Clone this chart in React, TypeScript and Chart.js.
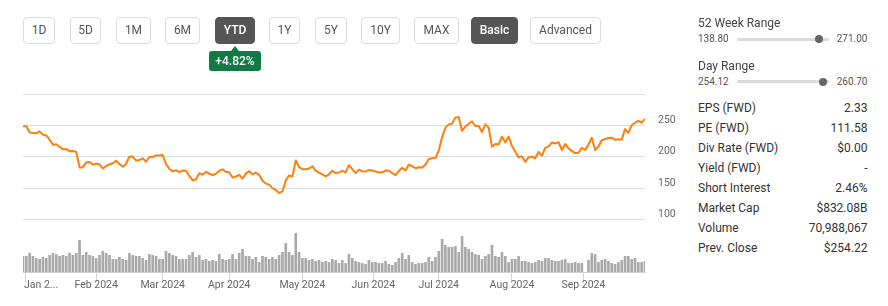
import React, { useEffect, useRef } from 'react';
import { Chart, registerables } from 'chart.js';

Chart.register(...registerables);

// ---- DATA ----
// Daily closes (USD), last close of 2023 followed by 2024 trading days
const closesDec = [248.48];
const closesJan = [248.42, 238.45, 237.93, 237.49, 240.45, 234.96, 233.94, 227.22, 218.89, 219.91, 215.55, 211.88, 212.19, 208.8, 209.14, 207.83, 182.63, 183.25, 190.93, 191.59, 187.29];
const closesFeb = [188.86, 187.91, 181.06, 185.1, 187.58, 189.56, 193.57, 188.13, 184.02, 188.71, 200.45, 199.95, 193.76, 194.77, 197.41, 191.97, 199.4, 199.73, 202.04, 201.88];
const closesMar = [202.64, 188.14, 180.74, 176.54, 178.65, 175.34, 177.77, 177.54, 169.48, 162.5, 163.57, 173.8, 171.32, 175.66, 172.82, 170.83, 172.63, 177.67, 179.83, 175.79];
const closesApr = [175.22, 166.63, 168.38, 171.11, 164.9, 172.98, 176.88, 171.76, 174.6, 171.05, 161.48, 157.11, 155.45, 149.93, 147.05, 142.05, 144.68, 162.13, 170.18, 168.29, 194.05, 183.28];
const closesMay = [179.99, 180.01, 181.19, 184.76, 177.81, 174.72, 171.97, 168.47, 171.89, 177.55, 173.99, 174.84, 177.46, 174.95, 186.6, 180.11, 173.74, 179.24, 176.75, 176.19, 178.79, 178.08];
const closesJun = [176.29, 174.77, 175.0, 177.94, 177.48, 173.79, 170.66, 177.29, 182.47, 178.01, 187.44, 184.86, 181.57, 183.01, 182.58, 187.35, 196.37, 197.42, 197.88];
const closesJul = [209.86, 231.26, 246.39, 251.52, 252.94, 262.33, 263.26, 241.03, 248.23, 252.64, 256.56, 248.5, 249.23, 239.2, 251.51, 246.38, 215.99, 220.25, 219.8, 232.1, 222.62, 232.07];
const closesAug = [216.86, 207.67, 198.88, 200.64, 191.76, 198.84, 200.0, 197.49, 207.83, 201.38, 214.14, 216.12, 222.72, 221.1, 223.27, 210.66, 220.32, 213.21, 209.21, 205.75, 206.28, 214.11];
const closesSep = [210.6, 219.41, 230.17, 210.73, 216.27, 226.17, 228.13, 229.81, 230.29, 226.78, 227.87, 227.2, 243.92, 238.25, 250.0, 254.27, 257.02, 254.22, 260.46];

// Daily volume (millions of shares), same days as closes
const volumes: (number | null)[] = [
  98, 98, 117, 98, 85, 79, 92, 85, 104, 117,
  110, 98, 104, 98, 117, 104, 117, 198, 104, 123,
  104, 98, 85, 104, 129, 117, 104, 79, 79, 92,
  79, 73, 117, 104, 98, 98, 85, 73, 110, 104,
  98, 79, 79, 129, 117, 104, 98, 79, 79, 79,
  104, 123, 92, 104, 73, 79, 67, 73, 67, 110,
  79, 73, 79, 110, 79, 117, 142, 98, 98, 79,
  92, 60, 98, 92, 79, 92, 79, 104, 123, 179,
  123, 104, 242, 123, 85, 85, 73, 79, 67, 73,
  60, 67, 60, 79, 73, 54, 73, 54, 110, 85,
  67, 60, 54, 48, 73, 60, 60, 54, 54, 67,
  48, 42, 60, 85, 117, 79, 104, 60, 48, 54,
  54, 60, 92, 67, 92, 129, 204, 167, 154, 154,
  160, 123, 223, 154, 142, 123, 110, 104, 79, 98,
  110, 167, 98, 92, 123, 98, 60, 79, 79, 98,
  67, 67, 60, 54, 60, 73, 67, 85, 85, 73,
  67, 67, 73, 79, 54, 54, 60, 54, 54, null,
  73, 117, 110, 60, 73, 79, 67, 54, 48, 60,
  73, 98, 98, 79, 85, 60, 60, 67,
];

// Month-start positions on the trading-day (ordinal) axis and their labels
const xTickPos = [0.75, 22, 42, 62, 84, 105.33, 125, 147, 168.5];
const xTickLabels = ['Jan 2...', 'Feb 2024', 'Mar 2024', 'Apr 2024', 'May 2024', 'Jun 2024', 'Jul 2024', 'Aug 2024', 'Sep 2024'];
const yTickValues = [100, 150, 200, 250, 300];
const yTickLabels = ['100', '150', '200', '250', ''];

const rangeButtons = ['1D', '5D', '1M', '6M', 'YTD', '1Y', '5Y', '10Y', 'MAX', 'Basic', 'Advanced'];
const activeButtons = ['YTD', 'Basic'];
const ytdChange = '+4.82%';

const ranges = [
  { title: '52 Week Range', low: '138.80', high: '271.00', pos: 0.89 },
  { title: 'Day Range', low: '254.12', high: '260.70', pos: 0.93 },
];
const statLabels = ['EPS (FWD)', 'PE (FWD)', 'Div Rate (FWD)', 'Yield (FWD)', 'Short Interest', 'Market Cap', 'Volume', 'Prev. Close'];
const statValues = ['2.33', '111.58', '$0.00', '-', '2.46%', '$832.08B', '70,988,067', '$254.22'];

// ---- LAYOUT ----
const buttonBoxes: [number, number][] = [
  [23, 32], [70, 31], [116, 35], [165, 35], [215, 40], [269, 31], [315, 32], [361, 39], [414, 45], [471, 47], [530, 71],
];

const ORANGE = '#ff7f0e';
const FONT = 'Roboto, "Noto Sans", sans-serif';

export default function App() {
  const canvasRef = useRef<HTMLCanvasElement | null>(null);

  useEffect(() => {
    const canvas = canvasRef.current;
    if (!canvas) return;
    const closes = [
      ...closesDec, ...closesJan, ...closesFeb, ...closesMar, ...closesApr,
      ...closesMay, ...closesJun, ...closesJul, ...closesAug, ...closesSep,
    ];
    const n = closes.length;
    const chart = new Chart(canvas, {
      type: 'line',
      data: {
        datasets: [
          {
            type: 'line',
            data: closes.map((c, i) => ({ x: i, y: c })),
            borderColor: ORANGE,
            borderWidth: 2,
            pointRadius: 0,
            tension: 0,
            borderJoinStyle: 'round',
            yAxisID: 'y',
            xAxisID: 'x',
            order: 0,
          } as any,
          {
            type: 'bar',
            data: volumes.map((v, i) => ({ x: i, y: v })),
            backgroundColor: '#a9a9a9',
            barThickness: 2,
            yAxisID: 'yv',
            xAxisID: 'x',
            order: 1,
          } as any,
        ],
      },
      options: {
        animation: false,
        responsive: false,
        maintainAspectRatio: false,
        events: [],
        layout: { padding: { left: 23, top: 94, right: 0, bottom: 0 } },
        plugins: { legend: { display: false }, tooltip: { enabled: false } },
        scales: {
          x: {
            type: 'linear',
            min: 0,
            max: n - 1,
            offset: false,
            afterBuildTicks: (s: any) => {
              s.ticks = xTickPos.map((v) => ({ value: v }));
            },
            afterFit: (s: any) => {
              s.height = 34;
              s.paddingLeft = 0;
              s.paddingRight = 0;
            },
            grid: { drawOnChartArea: false, drawTicks: true, tickLength: 10, color: '#d6d6d6', offset: false },
            border: { display: true, color: '#d0d0d0' },
            ticks: {
              autoSkip: false,
              maxRotation: 0,
              minRotation: 0,
              padding: -3,
              color: '#666',
              font: { family: FONT, size: 10.5 },
              callback: (_v: any, idx: number) =>
                idx === 0 ? '            ' + xTickLabels[idx] : xTickLabels[idx],
            },
          },
          y: {
            type: 'linear',
            position: 'right',
            min: 16,
            max: 300,
            afterBuildTicks: (s: any) => {
              s.ticks = yTickValues.map((v) => ({ value: v }));
            },
            afterFit: (s: any) => {
              s.width = 45;
              s.paddingTop = 0;
              s.paddingBottom = 0;
            },
            grid: { color: '#dcdcdc', drawTicks: false },
            border: { display: false },
            ticks: {
              padding: 13,
              labelOffset: -5,
              color: '#666',
              font: { family: FONT, size: 10.5 },
              callback: (_v: any, idx: number) => yTickLabels[idx],
            },
          },
          yv: {
            type: 'linear',
            display: false,
            min: 0,
            max: 1112,
          },
        },
      } as any,
    });
    return () => chart.destroy();
  }, []);

  return (
    <div
      style={{
        position: 'absolute',
        left: 0,
        top: 0,
        width: 888,
        height: 306,
        overflow: 'hidden',
        background: '#fff',
        fontFamily: FONT,
      }}
    >
      <canvas
        ref={canvasRef}
        width={690}
        height={306}
        style={{ position: 'absolute', left: 0, top: 0, width: 690, height: 306 }}
      />

      {rangeButtons.map((label, i) => {
        const [left, width] = buttonBoxes[i];
        const active = activeButtons.includes(label);
        return (
          <div
            key={label}
            style={{
              position: 'absolute',
              left,
              top: 17,
              width,
              height: 27,
              boxSizing: 'border-box',
              border: `1px solid ${active ? '#555' : '#dcdcdc'}`,
              borderRadius: 4,
              background: active ? '#555' : '#fff',
              color: active ? '#fff' : '#555',
              fontSize: 12,
              fontWeight: active ? 500 : 400,
              lineHeight: '25px',
              textAlign: 'center',
            }}
          >
            {label}
          </div>
        );
      })}

      {/* YTD change badge */}
      <div
        style={{
          position: 'absolute',
          left: 231,
          top: 46,
          width: 0,
          height: 0,
          borderLeft: '4px solid transparent',
          borderRight: '4px solid transparent',
          borderBottom: '5px solid #107a44',
        }}
      />
      <div
        style={{
          position: 'absolute',
          left: 209,
          top: 51,
          width: 52,
          height: 20,
          borderRadius: 3,
          background: '#107a44',
          color: '#fff',
          fontSize: 12,
          fontWeight: 500,
          lineHeight: '20px',
          textAlign: 'center',
        }}
      >
        {ytdChange}
      </div>

      {/* Right panel: ranges */}
      {ranges.map((r, k) => {
        const top = 16 + k * 42.5;
        return (
          <React.Fragment key={r.title}>
            <div
              style={{
                position: 'absolute',
                left: 698,
                top,
                height: 14,
                lineHeight: '14px',
                fontSize: 12,
                color: '#444',
                whiteSpace: 'nowrap',
              }}
            >
              {r.title}
            </div>
            <div
              style={{
                position: 'absolute',
                left: 698,
                top: top + 17,
                height: 12,
                lineHeight: '12px',
                fontSize: 10,
                color: '#555',
              }}
            >
              {r.low}
            </div>
            <div
              style={{
                position: 'absolute',
                left: 737,
                top: top + 21.5,
                width: 92,
                height: 3,
                background: '#dadada',
                borderRadius: 1.5,
              }}
            />
            <div
              style={{
                position: 'absolute',
                left: 737 + 92 * r.pos - 4,
                top: top + 19,
                width: 8,
                height: 8,
                borderRadius: 4,
                background: '#666',
              }}
            />
            <div
              style={{
                position: 'absolute',
                left: 818,
                width: 49.5,
                top: top + 17,
                height: 12,
                lineHeight: '12px',
                fontSize: 10,
                color: '#555',
                textAlign: 'right',
              }}
            >
              {r.high}
            </div>
          </React.Fragment>
        );
      })}

      {/* Right panel: stats */}
      {statLabels.map((label, i) => (
        <div
          key={label}
          style={{
            position: 'absolute',
            left: 698,
            width: 169.5,
            top: 98.3 + i * 20,
            height: 20,
            lineHeight: '20px',
            fontSize: 12,
            color: '#333',
            display: 'flex',
            justifyContent: 'space-between',
            whiteSpace: 'nowrap',
          }}
        >
          <span>{label}</span>
          <span>{statValues[i]}</span>
        </div>
      ))}
    </div>
  );
}
